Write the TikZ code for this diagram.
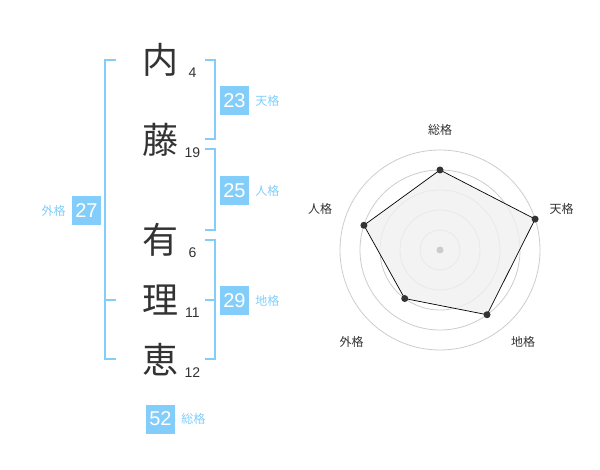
\documentclass[tikz,border=0pt]{standalone}
\usepackage{fontspec}
\setmainfont{Liberation Sans}
\newfontfamily\jp{Noto Sans CJK JP}
\usepackage{tikz}
\usetikzlibrary{positioning, calc}

\definecolor{kakublue}{RGB}{130,205,250}
\definecolor{inkgray}{RGB}{51,51,51}
\definecolor{ringgray}{RGB}{204,204,204}
\definecolor{fillgray}{RGB}{240,240,240}

\tikzset{
  kanji/.style={font=\jp\fontsize{36}{36}\selectfont, text=inkgray, inner sep=0pt},
  strokes/.style={font=\fontsize{14}{14}\selectfont, text=inkgray, inner sep=0pt},
  kakubox/.style={fill=kakublue, text=white, font=\fontsize{20}{20}\selectfont, minimum width=29pt, minimum height=29pt, inner sep=0pt},
  kakulabel/.style={font=\jp\fontsize{12}{12}\selectfont, text=kakublue, inner sep=0pt},
  bracket/.style={draw=kakublue, line width=2pt},
  axislabel/.style={font=\jp\fontsize{12}{12}\selectfont, text=inkgray, inner sep=0pt},
  radardot/.style={circle, fill=inkgray, inner sep=0pt, minimum size=7pt}
}

\begin{document}
\begin{tikzpicture}[x=1pt, y=-1pt]
\useasboundingbox (0,0) rectangle (600,470);

% name
\node [kanji] (nei) at (160,60) {内};
\node [kanji] (fuji) at (160,140) {藤};
\node [kanji] (ari) at (160,240) {有};
\node [kanji] (ri) at (160,300) {理};
\node [kanji] (megumi) at (160,360) {恵};

\node [strokes] (neiN) at (192.5,72.5) {4};
\node [strokes] (fujiN) at (192.5,152.5) {19};
\node [strokes] (ariN) at (192.5,252.5) {6};
\node [strokes] (riN) at (192.5,312.5) {11};
\node [strokes] (megumiN) at (192.5,372.5) {12};

% brackets
\draw [bracket] (205,60) -- (214.5,60) -- (214.5,139.5) -- (205,139.5);
\draw [bracket] (205,149.5) -- (214.5,149.5) -- (214.5,230) -- (205,230);
\draw [bracket] (205,240) -- (214.5,240) -- (214.5,359.5) -- (205,359.5);
\draw [bracket] (205,300) -- (214.5,300);
\draw [bracket] (116,60) -- (105,60) -- (105,359.5) -- (116,359.5);
\draw [bracket] (105,300) -- (116,300);

% kaku
\node [kakubox] (ten) at (234.5,100.5) {23};
\node [kakulabel, right=6pt of ten] (tenL) {天格};
\node [kakubox] (jin) at (234.5,190.5) {25};
\node [kakulabel, right=6pt of jin] (jinL) {人格};
\node [kakubox] (chi) at (234.5,300.5) {29};
\node [kakulabel, right=6pt of chi] (chiL) {地格};
\node [kakubox] (gai) at (86.5,210.5) {27};
\node [kakulabel, left=6pt of gai] (gaiL) {外格};
\node [kakubox] (sou) at (160.5,419) {52};
\node [kakulabel, right=6pt of sou] (souL) {総格};

% radar
\begin{scope}[shift={(440pt,-250pt)}, x=1pt, y=1pt]
\foreach \r in {20,40,60,80,100}
  \draw [ringgray, line width=0.8pt] (0,0) circle (\r);
\draw [fill=fillgray, fill opacity=0.8, draw=black, line width=0.7pt]
  (90:80) -- (18:100) -- (-54:80) -- (-126:60) -- (162:80) -- cycle;
\fill [ringgray] (0,0) circle (3.5);
\node [radardot] (dSou) at (90:80) {};
\node [radardot] (dTen) at (18:100) {};
\node [radardot] (dChi) at (-54:80) {};
\node [radardot] (dGai) at (-126:60) {};
\node [radardot] (dJin) at (162:80) {};
\node [axislabel] (aSou) at (0,120) {総格};
\node [axislabel] (aTen) at (121.5,41.5) {天格};
\node [axislabel] (aChi) at (83,-91.5) {地格};
\node [axislabel] (aGai) at (-88.5,-91.5) {外格};
\node [axislabel] (aJin) at (-120,41) {人格};
\end{scope}
\end{tikzpicture}
\end{document}
